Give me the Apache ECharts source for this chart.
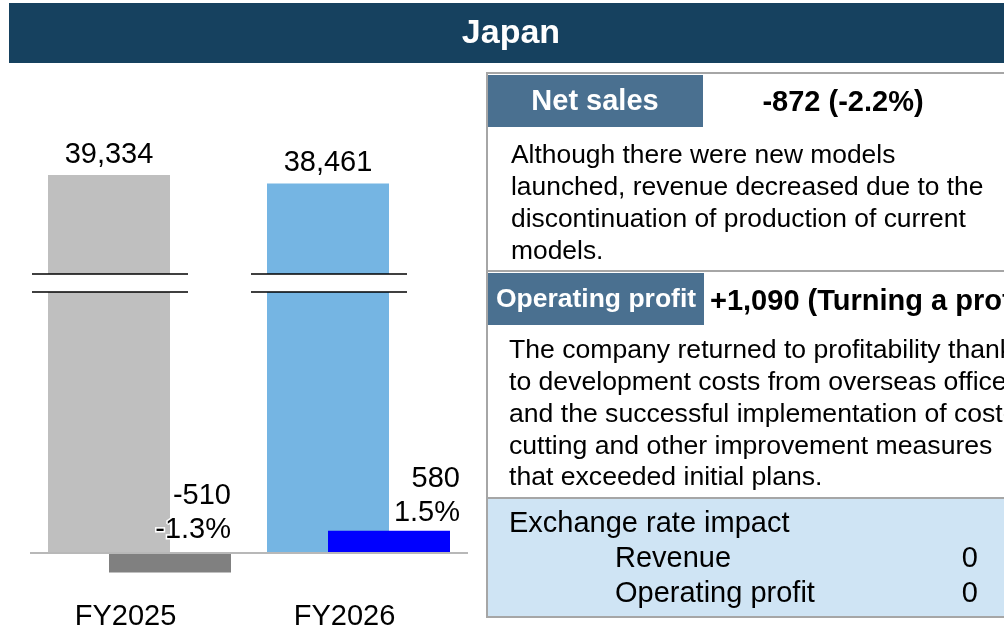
<!DOCTYPE html>
<html>
<head>
<meta charset="utf-8">
<script src="https://cdn.jsdelivr.net/npm/echarts@6/dist/echarts.min.js"></script>
<style>
  html, body { margin: 0; padding: 0; background: #fff; }
  #chart { width: 1004px; height: 631px; }
</style>
</head>
<body>
<div id="chart"></div>
<script>
// values
const categories = ['FY2025', 'FY2026'];
const netSales = [39334, 38461];
const opProfit = [-510, 580];

const netColors = ['#bfbfbf', '#75b5e3'];
const opColors = ['#808080', '#0000ff'];
// label offsets for the operating profit labels
const opLabelOffset = [[61, -2], [71, 3]];

// where the axis break marks sit on the net sales axis
const breakValue = 28100;

const FONT = 'Liberation Sans, Arial, Helvetica, sans-serif';
const BAR_W = 122;

const note1 = [
  'Although there were new models',
  'launched, revenue decreased due to the',
  'discontinuation of production of current',
  'models.'
];
const note2 = [
  'The company returned to profitability thanks',
  'to development costs from overseas offices',
  'and the successful implementation of cost-',
  'cutting and other improvement measures',
  'that exceeded initial plans.'
];

const fmt = v => v.toLocaleString('en-US');

var chart = echarts.init(document.getElementById('chart'));

var option = {
  animation: false,
  backgroundColor: '#fff',
  grid: { left: 30, width: 438, top: 100, bottom: 36, containLabel: false, outerBoundsMode: 'none' },
  xAxis: {
    type: 'category',
    data: categories,
    axisLine: { show: false, onZero: false },
    axisTick: { show: false },
    axisLabel: {
      color: '#000', fontSize: 29, fontFamily: FONT,
      margin: 7, padding: [0, 28, 0, 0]
    }
  },
  yAxis: [
    { type: 'value', show: false, min: -4371, max: 47139, splitLine: { show: false } },
    { type: 'value', show: false, min: -1092, max: 11778, splitLine: { show: false } }
  ],
  series: [
    {
      name: 'Net sales',
      type: 'bar',
      yAxisIndex: 0,
      barWidth: BAR_W,
      barGap: '-50%',
      z: 2,
      data: netSales.map((v, i) => ({ value: v, itemStyle: { color: netColors[i] } })),
      label: {
        show: true, position: 'top', distance: 6,
        color: '#000', fontSize: 29, fontFamily: FONT,
        formatter: p => fmt(p.value)
      },
      markLine: {
        silent: true,
        symbol: 'none',
        label: { show: false },
        lineStyle: { color: '#b8b8b8', width: 2, type: 'solid' },
        data: [{ yAxis: 0 }]
      }
    },
    {
      name: 'Operating profit',
      type: 'bar',
      yAxisIndex: 1,
      barWidth: BAR_W,
      barGap: '-50%',
      z: 3,
      data: opProfit.map((v, i) => ({
        value: v,
        itemStyle: { color: opColors[i] },
        label: { offset: opLabelOffset[i] }
      })),
      label: {
        show: true, position: 'top', distance: 4,
        align: 'right',
        color: '#000', fontSize: 29, lineHeight: 34, fontFamily: FONT,
        textBorderColor: '#fff', textBorderWidth: 3,
        formatter: p => fmt(p.value) + '\n' + (p.value / netSales[p.dataIndex] * 100).toFixed(1) + '%'
      }
    },
    {
      // break marks over the net sales bars
      type: 'custom',
      yAxisIndex: 0,
      z: 4,
      silent: true,
      data: categories.map((c, i) => [i, breakValue]),
      renderItem: function (params, api) {
        var pt = api.coord([api.value(0), api.value(1)]);
        var cx = pt[0] - BAR_W / 4 + 1;
        var w = BAR_W + 34;
        var x0 = cx - w / 2, x1 = cx + w / 2;
        var y0 = pt[1] - 9, y1 = pt[1] + 9;
        return {
          type: 'group',
          children: [
            { type: 'rect', shape: { x: x0 + 16, y: y0, width: w - 32, height: y1 - y0 }, style: { fill: '#fff' } },
            { type: 'line', shape: { x1: x0, y1: y0, x2: x1, y2: y0 }, style: { stroke: '#000', lineWidth: 1.5 } },
            { type: 'line', shape: { x1: x0, y1: y1, x2: x1, y2: y1 }, style: { stroke: '#000', lineWidth: 1.5 } }
          ]
        };
      }
    }
  ],
  graphic: [
    // title bar
    { type: 'rect', shape: { x: 9, y: 3, width: 995, height: 60 }, style: { fill: '#16415f' } },
    { type: 'text', x: 511, y: 34, style: { text: 'Japan', fill: '#fff', fontSize: 34, fontWeight: 'bold', fontFamily: FONT, align: 'center', verticalAlign: 'middle' } },

    // comment panel
    { type: 'rect', shape: { x: 487, y: 73, width: 540, height: 544 }, style: { fill: '#fff', stroke: '#a6a6a6', lineWidth: 2 } },
    { type: 'rect', shape: { x: 488, y: 75, width: 215, height: 52 }, style: { fill: '#4a7090' } },
    { type: 'text', x: 595, y: 102, style: { text: 'Net sales', fill: '#fff', fontSize: 29, fontWeight: 'bold', fontFamily: FONT, align: 'center', verticalAlign: 'middle' } },
    { type: 'text', x: 843, y: 103, style: { text: '-872 (-2.2%)', fill: '#000', fontSize: 29, fontWeight: 'bold', fontFamily: FONT, align: 'center', verticalAlign: 'middle' } },
    { type: 'text', x: 511, y: 140, style: { text: note1.join('\n'), fill: '#000', fontSize: 26.4, lineHeight: 32, fontFamily: FONT, align: 'left', verticalAlign: 'top' } },
    { type: 'line', shape: { x1: 487, y1: 271, x2: 1004, y2: 271 }, style: { stroke: '#a6a6a6', lineWidth: 2 } },

    { type: 'rect', shape: { x: 488, y: 273, width: 216, height: 52 }, style: { fill: '#4a7090' } },
    { type: 'text', x: 596, y: 300, style: { text: 'Operating profit', fill: '#fff', fontSize: 26.5, fontWeight: 'bold', fontFamily: FONT, align: 'center', verticalAlign: 'middle' } },
    { type: 'text', x: 710, y: 302, style: { text: '+1,090 (Turning a profit)', fill: '#000', fontSize: 29, fontWeight: 'bold', fontFamily: FONT, align: 'left', verticalAlign: 'middle' } },
    { type: 'text', x: 509, y: 335, style: { text: note2.join('\n'), fill: '#000', fontSize: 26.6, lineHeight: 31.8, fontFamily: FONT, align: 'left', verticalAlign: 'top' } },
    { type: 'line', shape: { x1: 487, y1: 498, x2: 1004, y2: 498 }, style: { stroke: '#a6a6a6', lineWidth: 2 } },

    { type: 'rect', shape: { x: 488, y: 499, width: 520, height: 117 }, style: { fill: '#cfe4f4' } },
    { type: 'text', x: 509, y: 524, style: { text: 'Exchange rate impact', fill: '#000', fontSize: 29, fontFamily: FONT, align: 'left', verticalAlign: 'middle' } },
    { type: 'text', x: 615, y: 559, style: { text: 'Revenue', fill: '#000', fontSize: 29, fontFamily: FONT, align: 'left', verticalAlign: 'middle' } },
    { type: 'text', x: 615, y: 594, style: { text: 'Operating profit', fill: '#000', fontSize: 29, fontFamily: FONT, align: 'left', verticalAlign: 'middle' } },
    { type: 'text', x: 978, y: 559, style: { text: '0', fill: '#000', fontSize: 29, fontFamily: FONT, align: 'right', verticalAlign: 'middle' } },
    { type: 'text', x: 978, y: 594, style: { text: '0', fill: '#000', fontSize: 29, fontFamily: FONT, align: 'right', verticalAlign: 'middle' } }
  ]
};

chart.setOption(option);
</script>
</body>
</html>
